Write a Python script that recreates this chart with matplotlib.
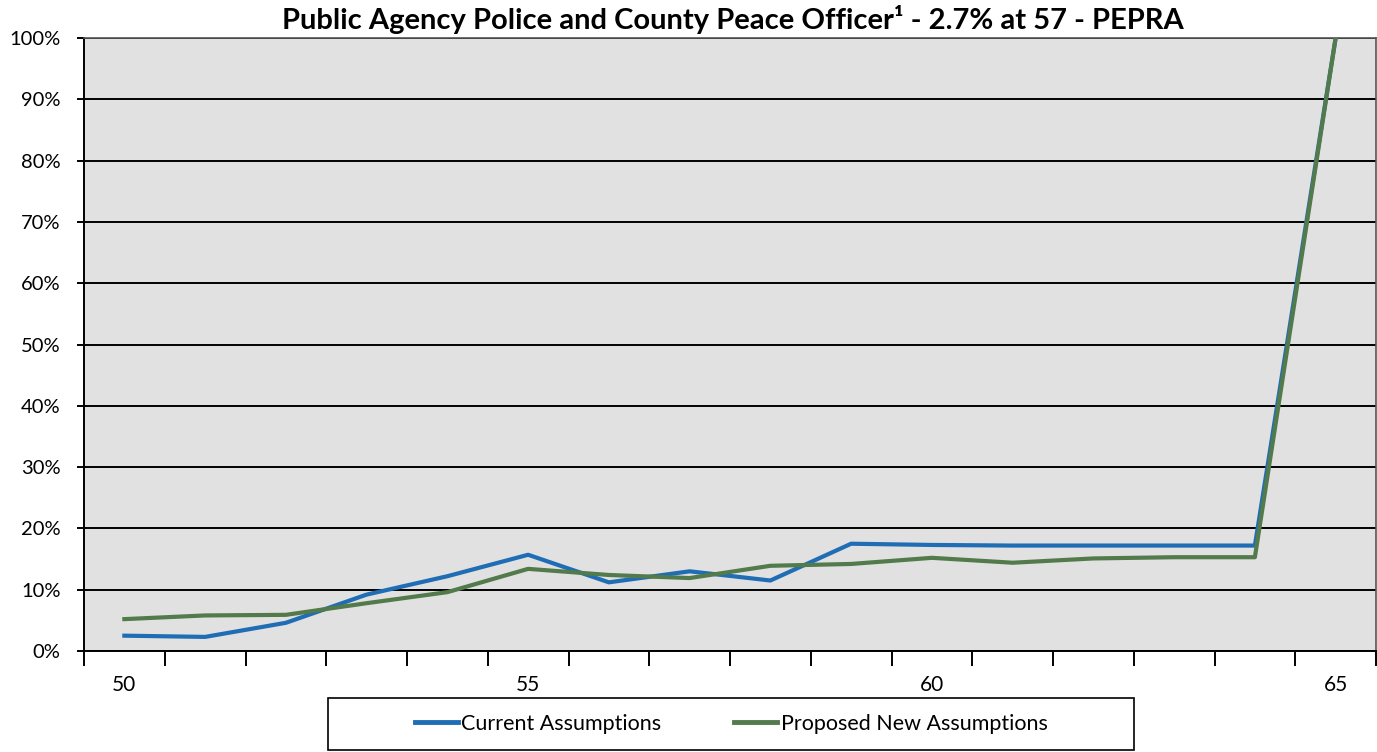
import matplotlib.pyplot as plt
import numpy as np
from matplotlib.patches import Rectangle
from matplotlib.ticker import FuncFormatter

plt.rcParams['font.family'] = ['Lato', 'DejaVu Sans']

ages = [50, 51, 52, 53, 54, 55, 56, 57, 58, 59, 60, 61, 62, 63, 64, 65]
current = [2.5, 2.3, 4.6, 9.2, 12.2, 15.7, 11.2, 13.0, 11.5, 17.5, 17.3, 17.2, 17.2, 17.2, 17.2, 100.0]
proposed = [5.2, 5.8, 5.9, 7.8, 9.6, 13.4, 12.4, 11.9, 13.9, 14.2, 15.2, 14.4, 15.1, 15.3, 15.3, 100.0]

title = "Public Agency Police and County Peace Officer\u00b9 - 2.7% at 57 - PEPRA"
blue = '#1f6db4'
green = '#527a4b'

W, H = 1377, 752
fig = plt.figure(figsize=(W / 100, H / 100), dpi=100)
ax = fig.add_axes([84 / W, 1 - 651 / H, (1376 - 84) / W, (651 - 38) / H])
ax.set_facecolor('#e1e1e1')

ax.plot(ages, current, color=blue, lw=3.0, label='Current Assumptions', zorder=3)
ax.plot(ages, proposed, color=green, lw=3.0, label='Proposed New Assumptions', zorder=4)

ax.set_xlim(ages[0] - 0.5, ages[-1] + 0.5)
ax.set_ylim(0, 100)
ax.set_yticks(np.arange(0, 101, 10))
ax.yaxis.set_major_formatter(FuncFormatter(lambda v, p: '%d%%' % v))
ax.grid(axis='y', color='black', lw=1.4, zorder=1)
ax.set_axisbelow(True)

ax.set_xticks(ages[::5])
ax.set_xticks(np.arange(ages[0] - 0.5, ages[-1] + 1), minor=True)
ax.tick_params(axis='x', which='major', length=0, pad=17, labelsize=15)
ax.tick_params(axis='x', which='minor', length=11, width=1.4, direction='out')
ax.tick_params(axis='y', length=5, width=1.4, labelsize=14.5, pad=12)

for s in ['left', 'bottom']:
    ax.spines[s].set_color('black')
    ax.spines[s].set_linewidth(1.4)
for s in ['top', 'right']:
    ax.spines[s].set_color('#555555')
    ax.spines[s].set_linewidth(1.2)

fig.text(733 / W, 1 - 20 / H, title, ha='center', va='center', fontsize=21, fontweight='bold')

# legend below the plot
fig.add_artist(Rectangle((328 / W, 1 - 750 / H), (1134 - 328) / W, (750 - 698) / H,
                         transform=fig.transFigure, fill=False, edgecolor='black', lw=1.2))
leg = fig.legend(loc='center', bbox_to_anchor=(731 / W, 1 - 724 / H), ncol=2, frameon=False,
                 fontsize=15.5, handlelength=2.0, handletextpad=0.15, columnspacing=3.4)
for ln in leg.get_lines():
    ln.set_linewidth(3.5)

fig.savefig('out.png', dpi=100)
